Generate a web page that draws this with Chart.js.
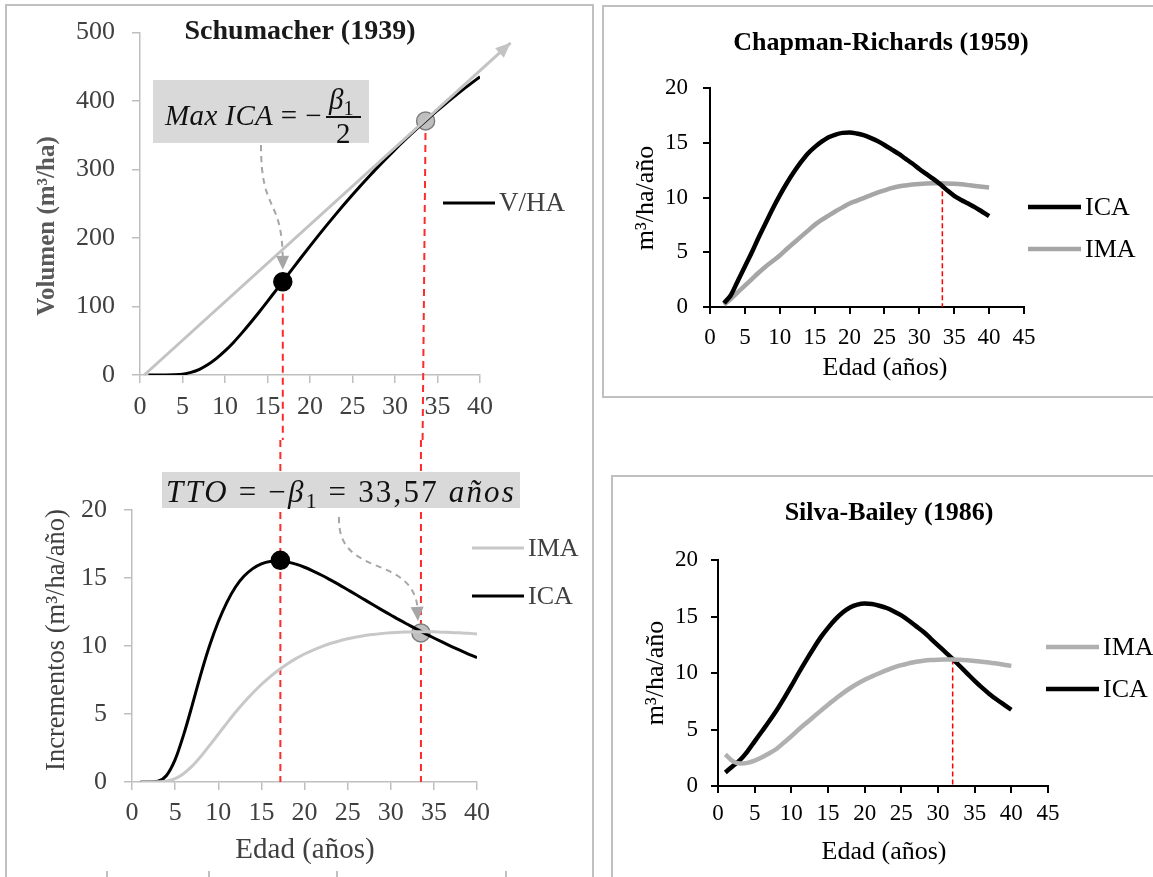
<!DOCTYPE html>
<html>
<head>
<meta charset="utf-8">
<script src="https://cdn.jsdelivr.net/npm/chart.js@4.4.1/dist/chart.umd.min.js"></script>
<style>
  html, body { margin: 0; padding: 0; background: #fff; }
  #page { position: relative; width: 1153px; height: 877px; overflow: hidden; font-family: "Liberation Serif", serif; }
  canvas { position: absolute; }
  .frame { position: absolute; border: 2px solid #c0c0c0; box-sizing: border-box; }
  .mark { position: absolute; width: 2px; height: 6px; background: #c0c0c0; top: 871px; }
  .formula { position: absolute; background: #d9d9d9; color: #111; z-index: 2; }
  .formula > span { position: absolute; white-space: nowrap; line-height: 1; }
  .formula i { font-style: italic; }
  .sub { position: relative; top: 0.28em; font-size: 0.7em; }
</style>
</head>
<body>
<div id="page">
  <div class="frame" style="left:5px;top:4px;width:589px;height:900px;"></div>
  <div class="frame" style="left:602px;top:5px;width:600px;height:393px;"></div>
  <div class="frame" style="left:611px;top:475px;width:600px;height:450px;"></div>
  <div class="mark" style="left:106px"></div>
  <div class="mark" style="left:208px"></div>
  <div class="mark" style="left:336px"></div>
  <div class="mark" style="left:505px"></div>

  <div class="formula" style="left:153px;top:80px;width:216px;height:63px;">
    <span data-fit="157" style="left:12px;top:21px;font-size:29px;"><i>Max ICA</i> = −</span>
    <span style="left:176px;top:5px;font-size:29px;"><i>β</i><span class="sub">1</span></span>
    <span style="left:173px;top:36px;width:35px;height:2px;background:#111;"></span>
    <span style="left:183px;top:39px;font-size:29px;">2</span>
  </div>
  <div class="formula" style="left:162px;top:472px;width:358px;height:36px;">
    <span data-fit="350" style="left:4px;top:4px;font-size:31px;"><i>TTO</i> = −<i>β</i><span class="sub">1</span> = 33,57 <i>años</i></span>
  </div>

  <canvas id="cSchu" style="left:0;top:0" width="592" height="440"></canvas>
  <canvas id="cInc" style="left:0;top:440px" width="592" height="437"></canvas>
  <canvas id="cChap" style="left:600px;top:0" width="553" height="440"></canvas>
  <canvas id="cSilva" style="left:600px;top:440px" width="553" height="437"></canvas>
</div>
<script>
// ---- Schumacher (1939): volumen
var ages = [1,2,3,4,5,6,7,8,9,10,11,12,13,14,15,16,17,18,19,20,21,22,23,24,25,26,27,28,29,30,31,32,33,34,35,36,37,38,39,40];
var volHa = [0,0,0.01,0.23,1.2,3.8,8.3,15.2,24.2,35.1,47.6,61.5,76.2,91.6,107.5,123.7,139.9,156.2,172.3,188.2,
             203.8,219.2,234.2,248.9,263.2,277.2,290.7,303.9,316.7,329.2,341.3,353.1,364.5,375.6,386.3,396.8,406.8,416.7,426.2,435.5];
var tangentAge = [0.5, 43.6];
var tangentVol = [0, 485];
var schuMarkAge = [16.8, 33.6];
var schuMarkVol = [136, 371];

// ---- Schumacher: incrementos
var incIca = [0,0,0.05,0.48,1.64,3.5,5.69,7.97,10.03,11.78,13.21,14.34,15.14,15.69,16.04,16.22,16.25,16.18,16.02,15.79,
              15.51,15.2,14.86,14.51,14.14,13.77,13.39,13.01,12.64,12.28,11.92,11.58,11.24,10.91,10.59,10.28,9.98,9.69,9.41,9.14];
var incIma = [0,0,0.01,0.06,0.24,0.63,1.19,1.9,2.69,3.51,4.33,5.13,5.86,6.54,7.17,7.73,8.23,8.68,9.07,9.41,
              9.7,9.96,10.18,10.37,10.53,10.66,10.77,10.85,10.92,10.97,11.01,11.03,11.05,11.05,11.04,11.02,10.99,10.97,10.93,10.89];
var incMarkAge = [17.2, 33.5];
var incMarkVal = [16.3, 10.96];

// ---- Chapman-Richards (1959)
var crAges = [2,3,4,5,6,7,8,9,10,11,12,13,14,15,16,17,18,19,20,21,22,23,24,25,26,27,28,29,30,31,32,33,34,35,36,37,38,39,40];
var crIca = [0.35,1.1,2.4,3.7,5.0,6.4,7.7,9.0,10.2,11.3,12.3,13.2,14.0,14.6,15.1,15.5,15.75,15.9,15.93,15.85,
             15.7,15.45,15.15,14.8,14.4,14.0,13.55,13.1,12.6,12.15,11.7,11.2,10.65,10.15,9.78,9.45,9.1,8.7,8.3];
var crIma = [0.2,0.75,1.35,1.95,2.55,3.15,3.7,4.2,4.7,5.3,5.85,6.4,6.95,7.5,7.95,8.35,8.75,9.1,9.45,9.7,
             9.95,10.2,10.45,10.65,10.85,11.0,11.1,11.18,11.24,11.28,11.3,11.3,11.28,11.25,11.2,11.13,11.05,10.98,10.92];
var crCrossAge = 33.3, crCrossVal = 11.3;

// ---- Silva-Bailey (1986)
var sbAges = ages;
var sbIca = [1.2,1.75,2.3,3.05,3.95,4.85,5.75,6.7,7.75,8.85,10.0,11.1,12.15,13.15,14.0,14.75,15.35,15.8,16.05,16.15,
             16.1,15.95,15.75,15.45,15.1,14.65,14.15,13.65,13.05,12.45,11.85,11.25,10.6,9.95,9.3,8.7,8.15,7.65,7.2,6.75];
var sbIma = [2.8,2.2,2.0,2.05,2.25,2.55,2.9,3.3,3.85,4.4,5.0,5.55,6.1,6.65,7.2,7.7,8.2,8.65,9.05,9.4,
             9.7,9.98,10.25,10.5,10.7,10.85,11.0,11.08,11.14,11.18,11.2,11.2,11.17,11.12,11.06,11.0,10.92,10.84,10.73,10.63];
var sbCrossAge = 32.0, sbCrossVal = 11.2;

// tick labels
var ticks0to40 = [0,5,10,15,20,25,30,35,40];
var ticks0to45 = [0,5,10,15,20,25,30,35,40,45];
var ticksVol = [0,100,200,300,400,500];
var ticksInc = [0,5,10,15,20];

function pts(xs, ys) {
    return xs.map(function (x, i) { return {x: x, y: ys[i]}; });
}

var SERIF = '"Liberation Serif", "Times New Roman", serif';

function drawArrowHead(ctx, x, y, ang, len, wid, color) {
    ctx.save();
    ctx.setLineDash([]);
    ctx.fillStyle = color;
    ctx.translate(x, y);
    ctx.rotate(ang);
    ctx.beginPath();
    ctx.moveTo(0, 0);
    ctx.lineTo(-len, -wid / 2);
    ctx.lineTo(-len, wid / 2);
    ctx.closePath();
    ctx.fill();
    ctx.restore();
}

var decor = {
    id: 'decor',
    beforeDatasetsDraw: function (chart, args, o) {
        var ctx = chart.ctx, xs = chart.scales.x, ys = chart.scales.y;
        (o.refLines || []).forEach(function (r) {
            var px = xs.getPixelForValue(r.x);
            var top = r.fromTop ? 0 : ys.getPixelForValue(r.y);
            var bottom = r.toEdge ? chart.height : ys.getPixelForValue(0);
            ctx.save();
            ctx.strokeStyle = r.color;
            ctx.lineWidth = r.width;
            ctx.setLineDash(r.dash);
            ctx.beginPath();
            ctx.moveTo(px, top);
            ctx.lineTo(px + (r.endDx || 0), bottom);
            ctx.stroke();
            ctx.restore();
        });
    },
    afterDatasetsDraw: function (chart, args, o) {
        var ctx = chart.ctx, xs = chart.scales.x, ys = chart.scales.y;
        // arrow head at the end of a dataset line
        if (o.headOn !== undefined) {
            var d = chart.getDatasetMeta(o.headOn).data;
            var a = d[d.length - 2], b = d[d.length - 1];
            drawArrowHead(ctx, b.x, b.y, Math.atan2(b.y - a.y, b.x - a.x), 15, 13, o.headColor);
        }
        // curved dashed arrows from the formula boxes to a point
        (o.arrows || []).forEach(function (r) {
            var ex = xs.getPixelForValue(r.toX) + r.dx, ey = ys.getPixelForValue(r.toY) + r.dy;
            ctx.save();
            ctx.strokeStyle = r.color;
            ctx.lineWidth = 2;
            ctx.setLineDash([6, 5]);
            ctx.beginPath();
            ctx.moveTo(r.from[0], r.from[1]);
            ctx.bezierCurveTo(r.c1[0], r.c1[1], r.c2[0], r.c2[1], ex, ey - 10);
            ctx.stroke();
            ctx.restore();
            drawArrowHead(ctx, ex, ey, Math.atan2(ey - r.c2[1], ex - r.c2[0]), 14, 13, r.color);
        });
    },
    afterDraw: function (chart, args, o) {
        var ctx = chart.ctx;
        (o.texts || []).forEach(function (t) {
            ctx.save();
            ctx.font = t.font;
            ctx.fillStyle = t.color;
            ctx.textAlign = 'center';
            ctx.textBaseline = 'middle';
            ctx.translate(t.x, t.y);
            if (t.rotate) ctx.rotate(t.rotate);
            ctx.fillText(t.text, 0, 0);
            ctx.restore();
        });
        (o.legend || []).forEach(function (l) {
            var ds = chart.data.datasets[l.ds];
            ctx.save();
            ctx.strokeStyle = ds.borderColor;
            ctx.lineWidth = ds.borderWidth;
            ctx.beginPath();
            ctx.moveTo(l.x1, l.y);
            ctx.lineTo(l.x2, l.y);
            ctx.stroke();
            ctx.font = l.font;
            ctx.fillStyle = l.color;
            ctx.textAlign = 'left';
            ctx.textBaseline = 'middle';
            ctx.fillText(ds.label, l.x2 + 4, l.y + 1);
            ctx.restore();
        });
    }
};

// y scale is 80 px wide, x scale 40 px high; layout padding places the plot area
function axis(a, dir) {
    return {
        type: 'linear',
        position: dir === 'x' ? 'bottom' : 'left',
        min: a.ticks[0],
        max: a.ticks[a.ticks.length - 1],
        afterBuildTicks: function (s) { s.ticks = a.ticks.map(function (v) { return {value: v}; }); },
        afterFit: function (s) { if (dir === 'x') s.height = 40; else s.width = 80; },
        grid: { drawOnChartArea: false, drawTicks: true, tickLength: a.tickLength, color: a.color, lineWidth: a.lineWidth },
        border: { display: true, color: a.color, width: a.lineWidth },
        ticks: { color: a.labelColor, font: { family: SERIF, size: a.fontSize }, padding: a.padding, maxRotation: 0, autoSkip: false }
    };
}

function makeChart(id, datasets, o) {
    return new Chart(document.getElementById(id), {
        type: 'line',
        data: { datasets: datasets },
        options: {
            responsive: false,
            animation: false,
            events: [],
            layout: { padding: o.padding },
            elements: { point: { radius: 0 } },
            plugins: { legend: { display: false }, tooltip: { enabled: false }, decor: o.decor },
            scales: { x: axis(o.x, 'x'), y: axis(o.y, 'y') }
        },
        plugins: [decor]
    });
}

function curve(label, data, color, width) {
    return { label: label, data: data, borderColor: color, borderWidth: width, fill: false,
             cubicInterpolationMode: 'monotone', pointRadius: 0 };
}
function marks(data, fills, borders) {
    return { label: 'marks', data: data, showLine: false, pointRadius: 9, pointBorderWidth: 1.5,
             pointBackgroundColor: fills, pointBorderColor: borders };
}

var leftAxis = { tickLength: 8, color: '#bfbfbf', lineWidth: 1.5, labelColor: '#404040', fontSize: 26 };
var rightAxis = { tickLength: 7, color: '#000', lineWidth: 2, labelColor: '#000', fontSize: 23 };
function ax(base, extra) { return Object.assign({}, base, extra); }

var RED_L = { color: '#ff2a2a', width: 2, dash: [7, 5] };
var RED_R = { color: '#ff0000', width: 1.5, dash: [5, 3] };

// Schumacher volumen
makeChart('cSchu', [
    Object.assign(curve('tangente', pts(tangentAge, tangentVol), '#c3c3c3', 3), { cubicInterpolationMode: 'default', tension: 0, clip: false }),
    curve('V/HA', pts(ages, volHa), '#000', 3),
    marks(pts(schuMarkAge, schuMarkVol), ['#000', '#bfbfbf'], ['#000', '#7f7f7f'])
], {
    padding: { left: 60, right: 112, top: 27, bottom: 25 },
    x: ax(leftAxis, { ticks: ticks0to40, padding: 9 }),
    y: ax(leftAxis, { ticks: ticksVol, padding: 17 }),
    decor: {
        refLines: [
            Object.assign({ x: schuMarkAge[0], y: schuMarkVol[0], toEdge: true }, RED_L),
            Object.assign({ x: schuMarkAge[1], y: schuMarkVol[1], toEdge: true, endDx: -3 }, RED_L)
        ],
        headOn: 0, headColor: '#c3c3c3',
        arrows: [{ from: [261, 145], c1: [261, 215], c2: [282, 195], toX: schuMarkAge[0], toY: schuMarkVol[0], dx: 0, dy: -12, color: '#a6a6a6' }],
        texts: [
            { text: 'Schumacher (1939)', x: 300, y: 32, font: 'bold 28px ' + SERIF, color: '#1a1a1a' },
            { text: 'Volumen (m³/ha)', x: 48, y: 226, rotate: -Math.PI / 2, font: 'bold 25px ' + SERIF, color: '#595959' }
        ],
        legend: [{ ds: 1, x1: 443, x2: 495, y: 203, font: '27px ' + SERIF, color: '#404040' }]
    }
});

// Schumacher incrementos
makeChart('cInc', [
    curve('IMA', pts(ages, incIma), '#c8c8c8', 3),
    curve('ICA', pts(ages, incIca), '#000', 3),
    marks(pts(incMarkAge, incMarkVal), ['#000', '#bfbfbf'], ['#000', '#7f7f7f'])
], {
    padding: { left: 52, right: 115, top: 70, bottom: 55 },
    x: ax(leftAxis, { ticks: ticks0to40, padding: 8 }),
    y: ax(leftAxis, { ticks: ticksInc, padding: 17 }),
    decor: {
        refLines: [
            Object.assign({ x: incMarkAge[0], fromTop: true }, RED_L),
            Object.assign({ x: incMarkAge[1], fromTop: true }, RED_L)
        ],
        arrows: [{ from: [339, 77], c1: [337, 140], c2: [414, 112], toX: incMarkAge[1], toY: incMarkVal[1], dx: -3, dy: -12, color: '#a6a6a6' }],
        texts: [
            { text: 'Incrementos (m³/ha/año)', x: 57, y: 200, rotate: -Math.PI / 2, font: '26.5px ' + SERIF, color: '#404040' },
            { text: 'Edad (años)', x: 305, y: 410, font: '29px ' + SERIF, color: '#404040' }
        ],
        legend: [
            { ds: 0, x1: 472, x2: 524, y: 108, font: '26px ' + SERIF, color: '#404040' },
            { ds: 1, x1: 472, x2: 524, y: 156, font: '26px ' + SERIF, color: '#404040' }
        ]
    }
});

// Chapman-Richards
makeChart('cChap', [
    curve('ICA', pts(crAges, crIca), '#000', 4.5),
    curve('IMA', pts(crAges, crIma), '#a6a6a6', 4.5)
], {
    padding: { left: 30, right: 129, top: 88, bottom: 93 },
    x: ax(rightAxis, { ticks: ticks0to45, padding: 10 }),
    y: ax(rightAxis, { ticks: ticksInc, padding: 15 }),
    decor: {
        refLines: [Object.assign({ x: crCrossAge, y: crCrossVal }, RED_R)],
        texts: [
            { text: 'Chapman-Richards (1959)', x: 281, y: 43, font: 'bold 26px ' + SERIF, color: '#000' },
            { text: 'm³/ha/año', x: 46, y: 198, rotate: -Math.PI / 2, font: '26px ' + SERIF, color: '#000' },
            { text: 'Edad (años)', x: 285, y: 368, font: '26px ' + SERIF, color: '#000' }
        ],
        legend: [
            { ds: 0, x1: 428, x2: 481, y: 207, font: '26px ' + SERIF, color: '#000' },
            { ds: 1, x1: 428, x2: 481, y: 249, font: '26px ' + SERIF, color: '#000' }
        ]
    }
});

// Silva-Bailey
makeChart('cSilva', [
    curve('IMA', pts(sbAges, sbIma), '#b0b0b0', 4.5),
    curve('ICA', pts(sbAges, sbIca), '#000', 4.5)
], {
    padding: { left: 38, right: 105, top: 120, bottom: 51 },
    x: ax(rightAxis, { ticks: ticks0to45, padding: 7 }),
    y: ax(rightAxis, { ticks: ticksInc, padding: 13 }),
    decor: {
        refLines: [Object.assign({ x: sbCrossAge, y: sbCrossVal }, RED_R)],
        texts: [
            { text: 'Silva-Bailey (1986)', x: 289, y: 73, font: 'bold 26px ' + SERIF, color: '#000' },
            { text: 'm³/ha/año', x: 56, y: 233, rotate: -Math.PI / 2, font: '26px ' + SERIF, color: '#000' },
            { text: 'Edad (años)', x: 284, y: 412, font: '26px ' + SERIF, color: '#000' }
        ],
        legend: [
            { ds: 0, x1: 446, x2: 499, y: 207, font: '26px ' + SERIF, color: '#000' },
            { ds: 1, x1: 446, x2: 499, y: 249, font: '26px ' + SERIF, color: '#000' }
        ]
    }
});

// stretch the formula text to the width it has in the figure
document.querySelectorAll('[data-fit]').forEach(function (el) {
    var target = +el.getAttribute('data-fit');
    var w = el.getBoundingClientRect().width;
    var n = el.textContent.length;
    el.style.letterSpacing = ((target - w) / n) + 'px';
});
</script>
</body>
</html>
